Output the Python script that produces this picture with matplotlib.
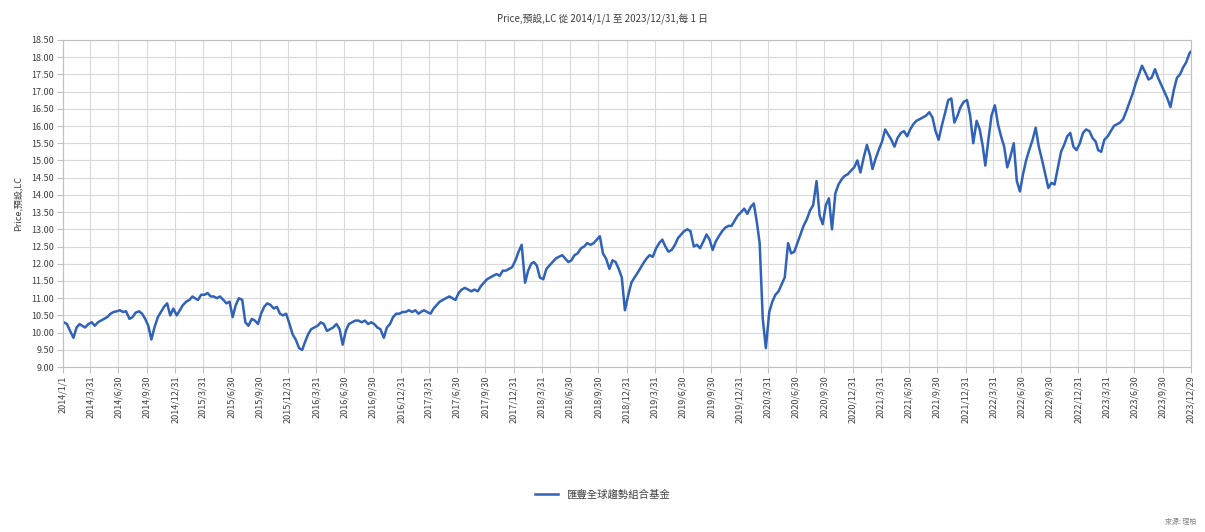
import numpy as np
import pandas as pd
import matplotlib
matplotlib.use("Agg")
import matplotlib.pyplot as plt

plt.rcParams['font.family'] = ['Noto Sans CJK TC', 'DejaVu Sans']

# 每年 36 個讀數（每月 5、15、25 日）
years = [2014, 2015, 2016, 2017, 2018, 2019, 2020, 2021, 2022, 2023]
prices_2014 = [10.30, 10.25, 10.05, 9.85, 10.15, 10.25, 10.20, 10.15, 10.25, 10.30, 10.20, 10.30,
               10.35, 10.40, 10.45, 10.55, 10.60, 10.62, 10.65, 10.60, 10.62, 10.40, 10.45, 10.58,
               10.62, 10.55, 10.40, 10.20, 9.80, 10.15, 10.45, 10.60, 10.75, 10.85, 10.50, 10.70]
prices_2015 = [10.50, 10.65, 10.80, 10.90, 10.95, 11.05, 11.00, 10.95, 11.10, 11.10, 11.15, 11.05,
               11.05, 11.00, 11.05, 10.95, 10.85, 10.90, 10.45, 10.80, 11.00, 10.95, 10.30, 10.20,
               10.40, 10.35, 10.25, 10.55, 10.75, 10.85, 10.80, 10.70, 10.75, 10.55, 10.50, 10.55]
prices_2016 = [10.25, 9.95, 9.80, 9.55, 9.50, 9.75, 9.95, 10.10, 10.15, 10.20, 10.30, 10.25,
               10.05, 10.10, 10.15, 10.25, 10.10, 9.65, 10.05, 10.25, 10.30, 10.35, 10.35, 10.30,
               10.35, 10.25, 10.30, 10.25, 10.15, 10.10, 9.85, 10.15, 10.25, 10.45, 10.55, 10.55]
prices_2017 = [10.60, 10.60, 10.65, 10.60, 10.65, 10.55, 10.60, 10.65, 10.60, 10.55, 10.70, 10.80,
               10.90, 10.95, 11.00, 11.05, 11.00, 10.95, 11.15, 11.25, 11.30, 11.25, 11.20, 11.25,
               11.20, 11.35, 11.45, 11.55, 11.60, 11.65, 11.70, 11.65, 11.80, 11.80, 11.85, 11.90]
prices_2018 = [12.10, 12.35, 12.55, 11.45, 11.80, 12.00, 12.05, 11.95, 11.60, 11.55, 11.85, 11.95,
               12.05, 12.15, 12.20, 12.25, 12.15, 12.05, 12.10, 12.25, 12.30, 12.45, 12.50, 12.60,
               12.55, 12.60, 12.70, 12.80, 12.30, 12.15, 11.85, 12.10, 12.05, 11.85, 11.60, 10.65]
prices_2019 = [11.10, 11.45, 11.60, 11.75, 11.90, 12.05, 12.15, 12.25, 12.20, 12.45, 12.60, 12.70,
               12.50, 12.35, 12.40, 12.55, 12.75, 12.85, 12.95, 13.00, 12.95, 12.50, 12.55, 12.45,
               12.65, 12.85, 12.70, 12.40, 12.65, 12.80, 12.95, 13.05, 13.10, 13.10, 13.25, 13.40]
prices_2020 = [13.50, 13.60, 13.45, 13.65, 13.75, 13.20, 12.60, 10.40, 9.55, 10.60, 10.90, 11.10,
               11.20, 11.40, 11.60, 12.60, 12.30, 12.35, 12.60, 12.85, 13.10, 13.30, 13.55, 13.70,
               14.40, 13.40, 13.15, 13.70, 13.90, 13.00, 14.05, 14.30, 14.45, 14.55, 14.60, 14.70]
prices_2021 = [14.80, 15.00, 14.65, 15.10, 15.45, 15.15, 14.75, 15.05, 15.30, 15.55, 15.90, 15.75,
               15.60, 15.40, 15.65, 15.80, 15.85, 15.70, 15.90, 16.05, 16.15, 16.20, 16.25, 16.30,
               16.40, 16.25, 15.85, 15.60, 16.00, 16.35, 16.75, 16.80, 16.10, 16.30, 16.55, 16.70]
prices_2022 = [16.75, 16.30, 15.50, 16.15, 15.90, 15.40, 14.85, 15.60, 16.30, 16.60, 16.05, 15.70,
               15.40, 14.80, 15.10, 15.50, 14.40, 14.10, 14.60, 15.00, 15.30, 15.60, 15.95, 15.40,
               15.00, 14.60, 14.20, 14.35, 14.30, 14.75, 15.25, 15.45, 15.70, 15.80, 15.40, 15.30]
prices_2023 = [15.50, 15.80, 15.90, 15.85, 15.65, 15.55, 15.30, 15.25, 15.60, 15.70, 15.85, 16.00,
               16.05, 16.10, 16.20, 16.45, 16.70, 16.95, 17.25, 17.50, 17.75, 17.55, 17.35, 17.40,
               17.65, 17.40, 17.20, 17.00, 16.80, 16.55, 17.05, 17.40, 17.50, 17.70, 17.85, 18.10]
start_price = 10.25
end_price = 18.15

tick_labels = ['2014/1/1']
for y in range(2014, 2024):
    for md in ['3/31', '6/30', '9/30', '12/31']:
        tick_labels.append(f'{y}/{md}')
tick_labels[-1] = '2023/12/29'

series_name = '匯豐全球趨勢組合基金'
title = 'Price,預設,LC 從 2014/1/1 至 2023/12/31,每 1 日'

# 組合日期與數值
all_prices = (prices_2014 + prices_2015 + prices_2016 + prices_2017 + prices_2018 +
              prices_2019 + prices_2020 + prices_2021 + prices_2022 + prices_2023)
dates = [pd.Timestamp(y, m, d) for y in years for m in range(1, 13) for d in (5, 15, 25)]
dates = [pd.Timestamp('2014-01-01')] + dates + [pd.Timestamp('2023-12-29')]
values = [start_price] + all_prices + [end_price]

fig = plt.figure(figsize=(12.05, 5.32), dpi=100)
ax = fig.add_axes([0.052, 0.31, 0.936, 0.615])

ax.plot(dates, values, color='#2f62b8', linewidth=1.8, label=series_name)

tick_dates = [pd.Timestamp(t.replace('/', '-')) for t in tick_labels]
ax.set_xticks(tick_dates)
ax.set_xticklabels(tick_labels, rotation=90, fontsize=6.5, color='#404040')
ax.set_xlim(tick_dates[0], tick_dates[-1])

ax.set_ylim(9.0, 18.5)
ax.set_yticks(np.arange(9.0, 18.51, 0.5))
ax.set_yticklabels([f'{v:.2f}' for v in np.arange(9.0, 18.51, 0.5)], fontsize=6.5, color='#404040')

ax.grid(True, color='#d9d9d9', linewidth=0.8)
ax.set_axisbelow(True)
for s in ax.spines.values():
    s.set_color('#bfbfbf')
ax.tick_params(axis='both', length=4, color='#bfbfbf', pad=2)

ax.set_ylabel('Price,預設,LC', fontsize=6.5, color='#404040', labelpad=6)
fig.suptitle(title, fontsize=7, color='#404040', y=0.975)

fig.legend(loc='center', bbox_to_anchor=(0.5, 0.07), frameon=False, fontsize=7.5,
           handlelength=2.2, labelcolor='#404040')
fig.text(0.993, 0.012, '來源: 理柏', fontsize=5, color='#808080', ha='right', va='bottom')

fig.savefig('out.png', dpi=100)
